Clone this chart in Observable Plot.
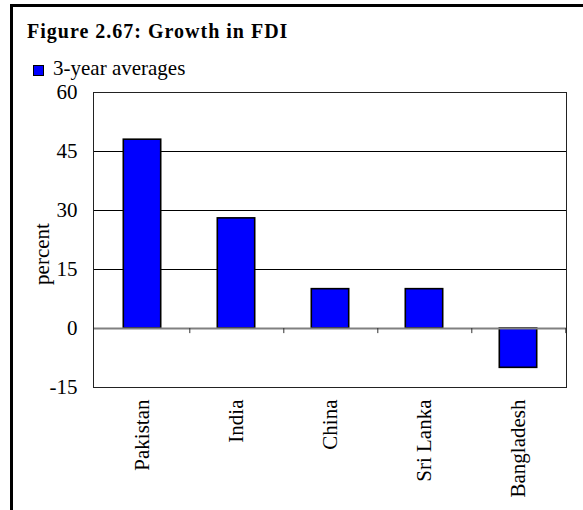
<!DOCTYPE html>
<html>
<head>
<meta charset="utf-8">
<script src="https://cdn.jsdelivr.net/npm/d3@7"></script>
<script src="https://cdn.jsdelivr.net/npm/@observablehq/plot@0.6"></script>
<style>
  html, body { margin: 0; padding: 0; background: #fff; }
  #wrap { position: relative; width: 583px; height: 510px; overflow: hidden; background: #fff;
          font-family: "Liberation Serif", "Times New Roman", serif; color: #000; }
  #box { position: absolute; left: 10px; top: 4px; width: 700px; height: 700px;
         border-left: 3px solid #000; border-top: 3px solid #000; }
  #title { position: absolute; left: 27px; top: 21px; font-size: 20px; line-height: 20px;
           font-weight: bold; letter-spacing: 1px; white-space: nowrap; }
  #legend { position: absolute; left: 33px; top: 58px; font-size: 21px; line-height: 20px; white-space: nowrap; }
  #legend .sw { position: absolute; left: 0; top: 7px; width: 9px; height: 9px; background: #0000ff; border: 1px solid #000; }
  #legend .lab { position: absolute; left: 20px; top: 0; }
  #chart { position: absolute; left: 0; top: 80px; }
</style>
</head>
<body>
<div id="wrap">
  <div id="box"></div>
  <div id="title">Figure 2.67: Growth in FDI</div>
  <div id="legend"><span class="sw"></span><span class="lab">3-year averages</span></div>
  <div id="chart"></div>
</div>
<script>
const countries = ["Pakistan", "India", "China", "Sri Lanka", "Bangladesh"];
const values = [48, 28, 10, 10, -10];
const yTicks = [-15, 0, 15, 30, 45, 60];
const gridValues = [15, 30, 45];
const seriesName = "3-year averages";
const yLabel = "percent";

const data = countries.map((c, i) => ({country: c, value: values[i]}));

const W = 583, H = 420;
const mL = 93, mR = 17, mT = 12, mB = 113;
const step = (W - mL - mR) / countries.length;
const barW = 38;

const chart = Plot.plot({
  width: W,
  height: H,
  marginLeft: mL,
  marginRight: mR,
  marginTop: mT,
  marginBottom: mB,
  style: {fontFamily: "Liberation Serif, Times New Roman, serif", fontSize: "21px", color: "#000", background: "transparent"},
  x: {domain: countries, padding: 0, label: null},
  y: {domain: [-15, 60], label: null},
  marks: [
    Plot.gridY(gridValues, {stroke: "#000", strokeOpacity: 1, strokeWidth: 1}),
    Plot.barY(data, {x: "country", y: "value", fill: "#0000ff", stroke: "#000", strokeWidth: 1.6,
                     insetLeft: (step - barW) / 2, insetRight: (step - barW) / 2}),
    Plot.ruleY([0], {stroke: "#808080", strokeWidth: 2}),
    Plot.ruleX(countries, {x: d => d, y1: 0, y2: -1.3, dx: step / 2, stroke: "#333", strokeWidth: 1}),
    Plot.frame({stroke: "#222", strokeWidth: 1}),
    Plot.axisY(yTicks, {tickSize: 0, tickPadding: 16, fontSize: 21, label: null, tickFormat: d => String(d)}),
    Plot.axisX({tickRotate: -90, tickSize: 0, tickPadding: 12, fontSize: 21, label: null}),
    Plot.text([yLabel], {frameAnchor: "left", textAnchor: "middle", dx: -51, dy: 14, rotate: -90, fontSize: 21, fill: "#000"})
  ]
});
document.getElementById("chart").appendChild(chart);
</script>
</body>
</html>
